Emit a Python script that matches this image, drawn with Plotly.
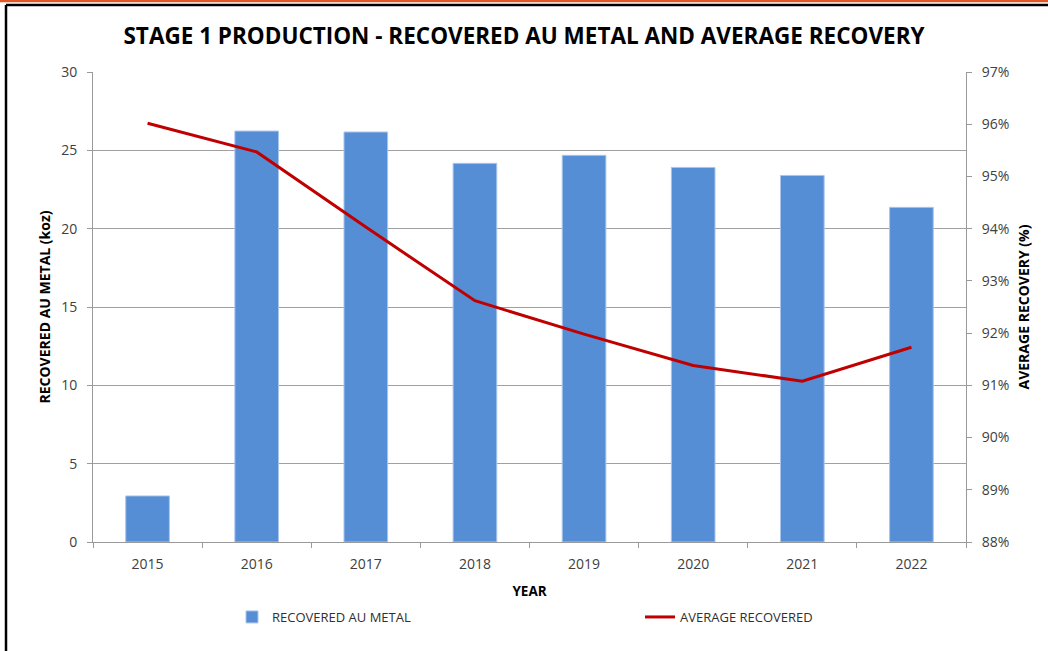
import plotly.graph_objects as go

years = ["2015", "2016", "2017", "2018", "2019", "2020", "2021", "2022"]
recovered_koz = [2.94, 26.23, 26.17, 24.17, 24.68, 23.91, 23.40, 21.36]
avg_recovery = [0.9602, 0.9547, 0.9403, 0.9262, 0.9198, 0.9138, 0.9108, 0.9173]

W, H = 1048, 651
L, R, T, B = 93, 966, 72, 542

def px(x):
    return (x - L) / (R - L)

def py(y):
    return (B - y) / (B - T)

fig = go.Figure()
fig.add_trace(go.Bar(
    x=years, y=recovered_koz, name="RECOVERED AU METAL",
    marker=dict(color="#558ED5", line=dict(color="#A9C5EC", width=1)),
    width=0.4,
))
fig.add_trace(go.Scatter(
    x=years, y=avg_recovery, name="AVERAGE RECOVERED", yaxis="y2",
    mode="lines", line=dict(color="#C00000", width=3),
))

tickfont = dict(family="Open Sans", size=14, color="#404040")
titlefont = dict(family="Open Sans", size=14, color="black", weight="bold")

fig.update_layout(
    width=W, height=H,
    margin=dict(l=L, r=W - R, t=T, b=H - B, autoexpand=False),
    paper_bgcolor="white", plot_bgcolor="white",
    title=dict(text="<b>STAGE 1 PRODUCTION - RECOVERED AU METAL AND AVERAGE RECOVERY</b>",
               x=0.5, xanchor="center", y=1 - 36 / H, yanchor="middle",
               font=dict(family="Open Sans", size=22.5, color="black")),
    xaxis=dict(type="category", showgrid=False, showline=True, linecolor="#9a9a9a",
               linewidth=1, ticks="outside", tickson="boundaries", ticklen=5,
               tickcolor="#9a9a9a", tickfont=tickfont, ticklabelstandoff=9,
               title=dict(text="YEAR", font=dict(family="Open Sans", size=13.5, color="black", weight="bold"),
                          standoff=14)),
    yaxis=dict(range=[0, 30], dtick=5, showgrid=True, gridcolor="#a0a0a0", gridwidth=1,
               showline=True, linecolor="#9a9a9a", ticks="outside", ticklen=5,
               tickcolor="#9a9a9a", tickfont=tickfont, zeroline=False, ticklabelstandoff=7,
               title=dict(text="RECOVERED AU METAL (koz)", font=titlefont, standoff=7)),
    yaxis2=dict(range=[0.88, 0.97], dtick=0.01, tickformat=".0%", overlaying="y",
                side="right", showgrid=False, showline=True, linecolor="#9a9a9a",
                ticks="outside", ticklen=5, tickcolor="#9a9a9a", tickfont=tickfont,
                zeroline=False, ticklabelstandoff=7,
                title=dict(text="AVERAGE RECOVERY (%)", font=titlefont, standoff=10)),
    showlegend=True,
    legend=dict(orientation="h", x=px(232), xanchor="left", y=py(617), yanchor="middle",
                font=dict(family="Open Sans", size=13, color="#303030"),
                entrywidth=363, entrywidthmode="pixels", traceorder="normal"),
    bargap=0.6,
)

fig.add_shape(type="line", xref="paper", yref="paper", x0=px(0), x1=px(W), y0=py(1), y1=py(1),
              line=dict(color="#E0582A", width=2.5))
fig.add_shape(type="line", xref="paper", yref="paper", x0=px(6), x1=px(W + 5), y0=py(5), y1=py(5),
              line=dict(color="black", width=2.5))
fig.add_shape(type="line", xref="paper", yref="paper", x0=px(6), x1=px(6), y0=py(5), y1=py(H + 5),
              line=dict(color="black", width=2.5))

fig.write_html("out.html")
